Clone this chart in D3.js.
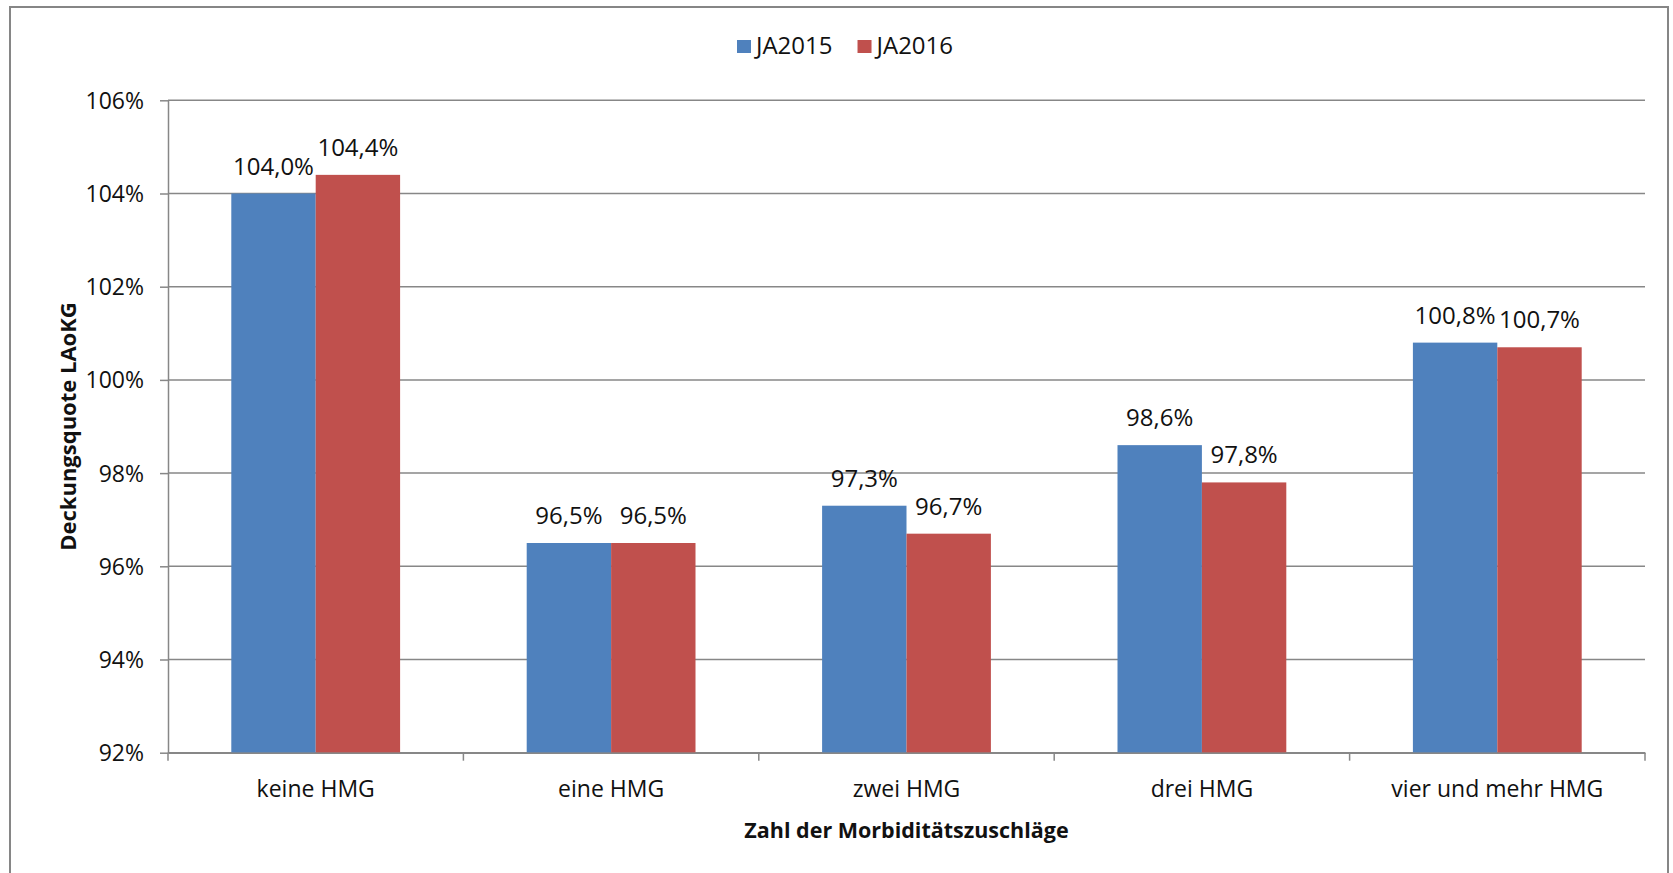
<!DOCTYPE html>
<html>
<head>
<meta charset="utf-8">
<script src="https://cdn.jsdelivr.net/npm/d3@7"></script>
<style>
  html, body { margin: 0; padding: 0; background: #fff; }
  svg { display: block; }
  text { font-family: "Open Sans", "Noto Sans", sans-serif; fill: #111; }
</style>
</head>
<body>
<svg id="chart" width="1673" height="873"></svg>
<script>
const categories = ["keine HMG", "eine HMG", "zwei HMG", "drei HMG", "vier und mehr HMG"];
const seriesNames = ["JA2015", "JA2016"];
const valuesJA2015 = [104.0, 96.5, 97.3, 98.6, 100.8];
const valuesJA2016 = [104.4, 96.5, 96.7, 97.8, 100.7];
const yTickValues = [92, 94, 96, 98, 100, 102, 104, 106];
const seriesColors = ["#4F81BD", "#C0504D"];
const xTitle = "Zahl der Morbiditätszuschläge";
const yTitle = "Deckungsquote LAoKG";

const seriesValues = [valuesJA2015, valuesJA2016];
const svg = d3.select("#chart");
const W = 1673, H = 873;
const plot = { left: 168, right: 1645, top: 100.3, bottom: 752.7 };

svg.append("rect").attr("width", W).attr("height", H).attr("fill", "#fff");
// chart area frame
svg.append("rect")
  .attr("x", 10).attr("y", 7).attr("width", 1658).attr("height", 920)
  .attr("fill", "none").attr("stroke", "#868686").attr("stroke-width", 2);

const x = d3.scaleBand().domain(categories).range([plot.left, plot.right]).paddingInner(0).paddingOuter(0);
const xSub = d3.scaleBand().domain(seriesNames).range([0, x.bandwidth()]).paddingInner(0).paddingOuter(0.75);
const y = d3.scaleLinear().domain([92, 106]).range([plot.bottom, plot.top]);

// gridlines
svg.append("g").selectAll("line").data(yTickValues).join("line")
  .attr("x1", plot.left).attr("x2", plot.right)
  .attr("y1", d => y(d)).attr("y2", d => y(d))
  .attr("stroke", "#878787").attr("stroke-width", 1.5);

// bars
const rows = categories.map((c, i) => seriesNames.map((s, j) => ({ cat: c, series: s, value: seriesValues[j][i], color: seriesColors[j] })));
const groups = svg.append("g").selectAll("g").data(rows).join("g")
  .attr("transform", d => `translate(${x(d[0].cat)},0)`);
groups.selectAll("rect").data(d => d).join("rect")
  .attr("x", d => xSub(d.series))
  .attr("width", xSub.bandwidth())
  .attr("y", d => y(d.value))
  .attr("height", d => y(92) - y(d.value))
  .attr("fill", d => d.color);

// data labels
groups.selectAll("text").data(d => d).join("text")
  .attr("x", d => xSub(d.series) + xSub.bandwidth() / 2)
  .attr("y", d => y(d.value) - 19)
  .attr("text-anchor", "middle")
  .style("font-size", "24px")
  .text(d => d.value.toFixed(1).replace(".", ",") + "%");

// y axis
const yAxis = svg.append("g").attr("transform", `translate(${plot.left},0)`)
  .call(d3.axisLeft(y).tickValues(yTickValues).tickSize(8).tickSizeOuter(0).tickPadding(16).tickFormat(d => d + "%"));
yAxis.select(".domain").attr("stroke", "#878787").attr("stroke-width", 1.5);
yAxis.selectAll(".tick line").attr("stroke", "#878787").attr("stroke-width", 1.5);
yAxis.selectAll(".tick text").attr("dy", "0.35em").style("font-size", "23px").attr("fill", "#111");

// x axis
const xAxis = svg.append("g").attr("transform", `translate(0,${plot.bottom})`)
  .call(d3.axisBottom(x).tickSize(0).tickSizeOuter(0));
xAxis.select(".domain").attr("stroke", "#878787").attr("stroke-width", 1.5);
xAxis.selectAll(".tick text").attr("y", 44).attr("dy", 0).style("font-size", "23px").attr("fill", "#111");
// boundary ticks between categories
const boundaries = categories.map(c => x(c)).concat([x(categories[categories.length - 1]) + x.bandwidth()]);
xAxis.append("g").selectAll("line").data(boundaries).join("line")
  .attr("x1", d => d).attr("x2", d => d).attr("y1", 0).attr("y2", 8)
  .attr("stroke", "#878787").attr("stroke-width", 1.5);
d3.selectAll(".tick text").style("font-family", "\"Open Sans\", \"Noto Sans\", sans-serif");

// axis titles
svg.append("text")
  .attr("x", (plot.left + plot.right) / 2).attr("y", 838)
  .attr("text-anchor", "middle")
  .style("font-size", "21.5px").style("font-weight", "bold")
  .text(xTitle);
svg.append("text")
  .attr("transform", `translate(76,${(plot.top + plot.bottom) / 2}) rotate(-90)`)
  .attr("text-anchor", "middle")
  .style("font-size", "22px").style("font-weight", "bold")
  .text(yTitle);

// legend
const legend = svg.append("g");
let lx = 737;
seriesNames.forEach((s, i) => {
  legend.append("rect").attr("x", lx).attr("y", 40).attr("width", 14).attr("height", 13).attr("fill", seriesColors[i]);
  const t = legend.append("text").attr("x", lx + 19).attr("y", 54).style("font-size", "24px").text(s);
  lx += 19 + t.node().getComputedTextLength() + 25;
});
</script>
</body>
</html>
